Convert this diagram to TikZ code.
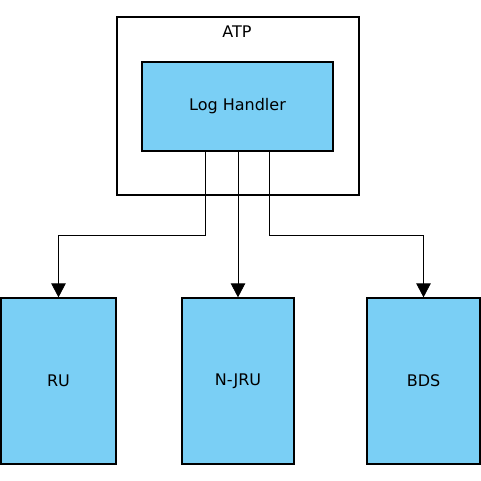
\documentclass[tikz,border=0pt]{standalone}
\usepackage{fontspec}
\setmainfont{DejaVu Sans}
\usetikzlibrary{arrows.meta}

\begin{document}
\begin{tikzpicture}[x=1pt,y=-1pt]
\tikzstyle{every node}+=[inner sep=0pt, font=\fontsize{16}{19}\selectfont]
\tikzstyle{blockbox}=[draw=black, line width=1.3pt, fill=white]
\tikzstyle{unitbox}=[draw=black, line width=1.3pt, fill={rgb,255:red,122;green,207;blue,245}]
\tikzstyle{conn}=[draw=black, line width=0.8pt, -{Triangle[width=14.5pt,length=14pt]}]
\useasboundingbox (0,0) rectangle (481,481);
\node [blockbox, minimum width=242pt, minimum height=178pt] (atp) at (238,106) {};
\node (atplabel) at (237,32) {ATP};
\node [unitbox, minimum width=191pt, minimum height=89pt] (lh) at (237.5,106.5) {Log Handler};
\node [unitbox, minimum width=115pt, minimum height=166pt] (ru) at (58.5,381) {RU};
\node [unitbox, minimum width=112pt, minimum height=166pt] (njru) at (238,381) {N-JRU};
\node [unitbox, minimum width=113pt, minimum height=166pt] (bds) at (423.5,381) {BDS};
\coordinate (bend) at (0,235);
\draw [conn] ([xshift=-32pt]lh.south) |- (ru.north |- bend) -- (ru.north);
\draw [conn] (lh.south -| njru.north) -- (njru.north);
\draw [conn] ([xshift=32pt]lh.south) |- (bds.north |- bend) -- (bds.north);
\end{tikzpicture}
\end{document}
